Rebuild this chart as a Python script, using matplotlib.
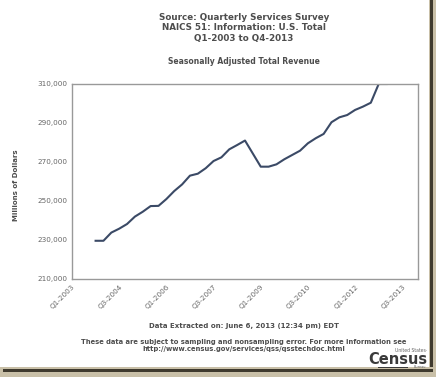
#!/usr/bin/env python3
"""Quarterly Services Survey - NAICS 51 Information, seasonally adjusted revenue."""
import matplotlib
matplotlib.use("Agg")
import matplotlib.pyplot as plt
from matplotlib.patches import Rectangle

# quarter index 0 = Q1-2003; first value is Q4-2003, last Q1-2013
start_idx = 3
revenue = [229.6, 229.6, 233.8, 235.8, 238.2, 242.0, 244.5, 247.4, 247.5,
           251.0, 255.1, 258.5, 263.0, 264.0, 266.8, 270.5, 272.4, 276.5,
           278.7, 281.0, 274.3, 267.6, 267.6, 268.8, 271.4, 273.6, 275.8,
           279.6, 282.2, 284.4, 290.4, 292.9, 294.1, 296.7, 298.4, 300.4,
           310.0, 310.0]  # thousands of millions
tick_labels = ["Q1-2003", "Q3-2004", "Q1-2006", "Q3-2007",
               "Q1-2009", "Q3-2010", "Q1-2012", "Q3-2013"]
y_ticks = [210000, 230000, 250000, 270000, 290000, 310000]

W, H = 439, 377
fig = plt.figure(figsize=(W / 100, H / 100), dpi=100)
fig.patch.set_facecolor("white")

# thumbnail frame (shadow on right and bottom)
fig.patches.append(Rectangle((429 / W, 0), 7 / W, 1, transform=fig.transFigure,
                             facecolor="#c9c0a8", edgecolor="none"))
fig.patches.append(Rectangle((430 / W, 4 / H), 3 / W, 1 - 4 / H, transform=fig.transFigure,
                             facecolor="#3f3a2e", edgecolor="none"))
fig.patches.append(Rectangle((0, 0), 436 / W, 10 / H, transform=fig.transFigure,
                             facecolor="#c9c0a8", edgecolor="none"))
fig.patches.append(Rectangle((3 / W, 5 / H), 430 / W, 3 / H, transform=fig.transFigure,
                             facecolor="#3f3a2e", edgecolor="none"))

ax = fig.add_axes([72 / W, 1 - 279 / H, (418 - 72) / W, (279 - 84) / H])
x = list(range(start_idx, start_idx + len(revenue)))
y = [v * 1000 for v in revenue]
ax.plot(x, y, color="#3b4a66", lw=1.5)

ax.set_xlim(0, 44)
ax.set_ylim(210000, 310000)
ax.set_xticks(range(0, 43, 6))
ax.set_xticklabels(tick_labels, rotation=45, ha="right", rotation_mode="anchor",
                   fontsize=5.2, color="#666666")
ax.set_yticks(y_ticks)
ax.set_yticklabels([f"{v:,}" for v in y_ticks], fontsize=5.2, color="#666666")
ax.tick_params(length=0, pad=3)
for s in ax.spines.values():
    s.set_color("#999999")
    s.set_linewidth(1)

grey = "#4d4d4d"
fig.text(244 / W, 1 - 17 / H, "Source: Quarterly Services Survey", ha="center", va="center",
         fontsize=6.3, fontweight="bold", color=grey)
fig.text(244 / W, 1 - 28 / H, "NAICS 51: Information: U.S. Total", ha="center", va="center",
         fontsize=6.3, fontweight="bold", color=grey)
fig.text(244 / W, 1 - 39 / H, "Q1-2003 to Q4-2013", ha="center", va="center",
         fontsize=6.3, fontweight="bold", color=grey)
fig.text(244 / W, 1 - 62 / H, "Seasonally Adjusted Total Revenue", ha="center", va="center",
         fontsize=5.5, fontweight="bold", color=grey)
fig.text(16 / W, 1 - 185 / H, "Millions of Dollars", rotation=90, ha="center", va="center",
         fontsize=5, fontweight="bold", color=grey)
fig.text(244 / W, 1 - 326 / H, "Data Extracted on: June 6, 2013 (12:34 pm) EDT",
         ha="center", va="center", fontsize=5, fontweight="bold", color=grey)
fig.text(244 / W, 1 - 342 / H,
         "These data are subject to sampling and nonsampling error. For more information see",
         ha="center", va="center", fontsize=4.85, fontweight="bold", color=grey)
fig.text(244 / W, 1 - 349 / H, "http://www.census.gov/services/qss/qsstechdoc.html",
         ha="center", va="center", fontsize=4.85, fontweight="bold", color=grey)

# Census logo
fig.text(427 / W, 1 - 350 / H, "United States\u00b7", ha="right", va="center",
         fontsize=3.3, color="#666666")
fig.text(427 / W, 1 - 359 / H, "Census", ha="right", va="center",
         fontsize=10.5, fontweight="bold", color="#3a3a3a")
fig.patches.append(Rectangle((378 / W, 1 - 368 / H), 30 / W, 1.5 / H, transform=fig.transFigure,
                             facecolor="#3a3a3a", edgecolor="none"))
fig.text(426 / W, 1 - 367 / H, "Bureau", ha="right", va="center",
         fontsize=2.5, color="#666666")

plt.savefig("out.png", dpi=100)
